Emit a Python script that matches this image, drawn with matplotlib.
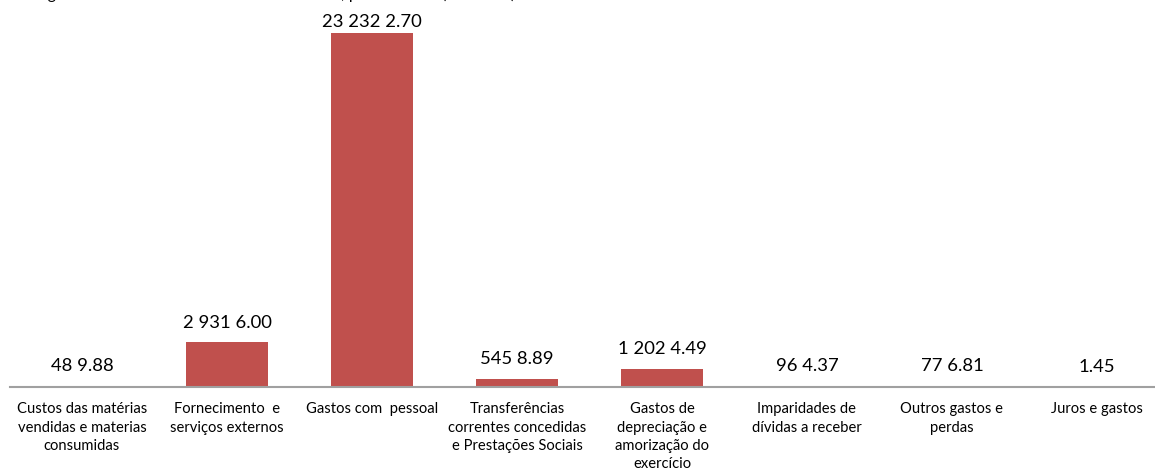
import matplotlib
matplotlib.use("Agg")
import matplotlib.pyplot as plt

categories = [
    "Custos das matérias\nvendidas e materias\nconsumidas",
    "Fornecimento  e\nserviços externos",
    "Gastos com  pessoal",
    "Transferências\ncorrentes concedidas\ne Prestações Sociais",
    "Gastos de\ndepreciação e\namorização do\nexercício",
    "Imparidades de\ndívidas a receber",
    "Outros gastos e\nperdas",
    "Juros e gastos",
]
values = [489.88, 29316.00, 232322.70, 5458.89, 12024.49, 964.37, 776.81, 1.45]
value_labels = ["48 9.88", "2 931 6.00", "23 232 2.70", "545 8.89",
                "1 202 4.49", "96 4.37", "77 6.81", "1.45"]
title = "Imagem 4 – Estrutura dos custos do exercício, por natureza (em euros)"

plt.rcParams['font.family'] = ['Lato', 'DejaVu Sans']

W, H = 1155, 472
fig = plt.figure(figsize=(W / 100, H / 100), dpi=100)
ax = fig.add_axes([9.5 / W, (H - 387) / H, 1160 / W, 387 / H])

x = list(range(len(categories)))
bars = ax.bar(x, values, width=0.57, color="#C0504D", edgecolor="none")
ax.set_xlim(-0.5, len(categories) - 0.5)
ax.set_ylim(0, 254000)

vmax = max(values)
for xi, v, lab in zip(x, values, value_labels):
    off = 2.5 if v == vmax else 8.5
    ax.annotate(lab, (xi, v), xytext=(0, off), textcoords="offset points",
                ha="center", va="bottom", fontsize=13.3, color="black",
                annotation_clip=False)

ax.set_xticks(x)
ax.set_xticklabels(categories, fontsize=10.6, linespacing=1.4)
ax.tick_params(axis="x", length=0, pad=11)
ax.set_yticks([])
for s in ["top", "right", "left"]:
    ax.spines[s].set_visible(False)
ax.spines["bottom"].set_color("#A0A0A0")
ax.spines["bottom"].set_linewidth(1.5)

fig.text(22 / W, 1 + 1.5 / H, title, fontsize=11.5, ha="left", va="baseline")

fig.savefig("out.png", dpi=100)
